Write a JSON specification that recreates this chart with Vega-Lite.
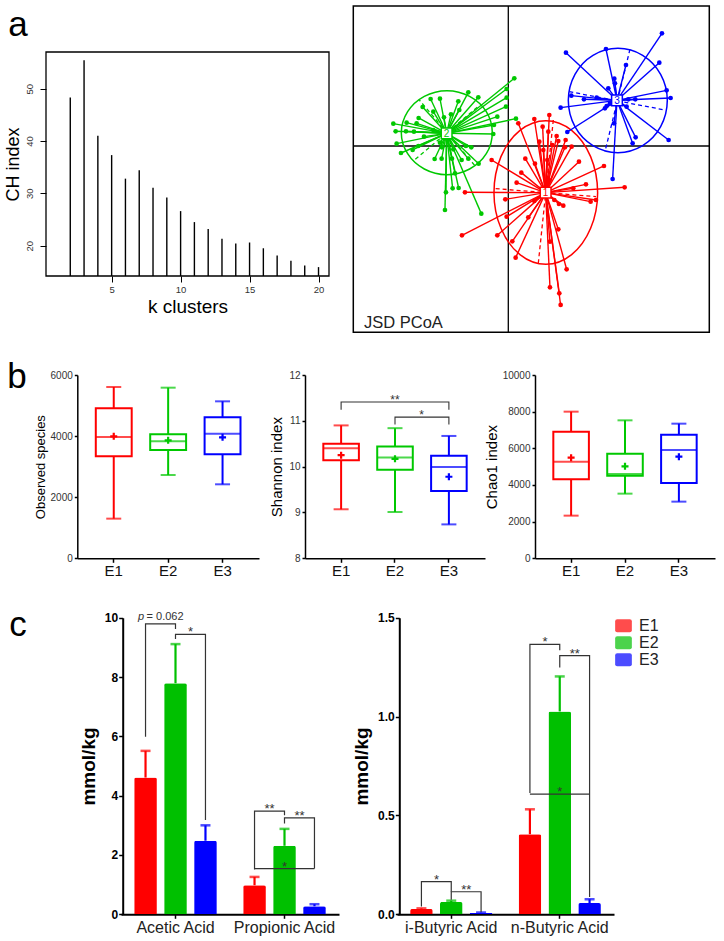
{
"$schema":"https://vega.github.io/schema/vega-lite/v6.json",
"width":724,"height":941,"autosize":"none","padding":0,"background":"white",
"config":{"view":{"stroke":null},"font":"Liberation Sans","axis":{"grid":false,"domainColor":"black","tickColor":"black","labelFont":"Liberation Sans","titleFont":"Liberation Sans","titleFontWeight":"normal","titleColor":"black"}},
"datasets":{
"ch":[{"k":2,"ch":48.3},{"k":3,"ch":55.4},{"k":4,"ch":41.0},{"k":5,"ch":37.3},{"k":6,"ch":32.8},{"k":7,"ch":34.4},{"k":8,"ch":31.05},{"k":9,"ch":29.2},{"k":10,"ch":26.6},{"k":11,"ch":24.5},{"k":12,"ch":23.2},{"k":13,"ch":21.3},{"k":14,"ch":20.4},{"k":15,"ch":20.6},{"k":16,"ch":19.5},{"k":17,"ch":18.1},{"k":18,"ch":17.1},{"k":19,"ch":16.2},{"k":20,"ch":15.9}],
"cent":[{"cl":"1","cx":1.12,"cy":-1.40},{"cl":"2","cx":-1.85,"cy":0.38},{"cl":"3","cx":3.26,"cy":1.37}],
"pts":[
{"cl":"2","px":0.18,"py":2.03},{"cl":"2","px":-0.05,"py":1.71},{"cl":"2","px":-0.05,"py":1.45},{"cl":"2","px":-0.07,"py":1.18},{"cl":"2","px":0.23,"py":0.82},{"cl":"2","px":-0.33,"py":0.88},{"cl":"2","px":-0.43,"py":0.63},{"cl":"2","px":-0.45,"py":0.36},{"cl":"2","px":-0.90,"py":1.46},{"cl":"2","px":-1.20,"py":1.61},{"cl":"2","px":-1.50,"py":1.34},{"cl":"2","px":-1.47,"py":1.08},{"cl":"2","px":-1.72,"py":0.95},{"cl":"2","px":-1.93,"py":0.86},{"cl":"2","px":-2.05,"py":1.42},{"cl":"2","px":-2.33,"py":1.41},{"cl":"2","px":-2.25,"py":1.03},{"cl":"2","px":-2.57,"py":1.17},{"cl":"2","px":-2.69,"py":0.84},{"cl":"2","px":-2.75,"py":0.68},{"cl":"2","px":-3.05,"py":0.70},{"cl":"2","px":-3.07,"py":0.44},{"cl":"2","px":-3.45,"py":0.67},{"cl":"2","px":-3.38,"py":0.44},{"cl":"2","px":-3.35,"py":0.07},{"cl":"2","px":-3.22,"py":-0.21},{"cl":"2","px":-2.83,"py":0.43},{"cl":"2","px":-2.70,"py":0.00},{"cl":"2","px":-2.87,"py":-0.12},{"cl":"2","px":-2.53,"py":0.28},{"cl":"2","px":-2.25,"py":0.48},{"cl":"2","px":-2.21,"py":-0.39},{"cl":"2","px":-1.99,"py":-0.04},{"cl":"2","px":-2.00,"py":-0.38},{"cl":"2","px":-1.69,"py":-0.38},{"cl":"2","px":-1.65,"py":-0.10},{"cl":"2","px":-1.40,"py":-0.42},{"cl":"2","px":-1.60,"py":-0.82},{"cl":"2","px":-1.67,"py":-1.27},{"cl":"2","px":-1.49,"py":-1.26},{"cl":"2","px":-1.87,"py":-1.39},{"cl":"2","px":-1.90,"py":-1.92},{"cl":"2","px":-0.81,"py":-2.03},{"cl":"2","px":-0.89,"py":-0.53},{"cl":"2","px":-1.20,"py":-0.38},{"cl":"2","px":-1.27,"py":0.00},{"cl":"2","px":-1.11,"py":-0.04},{"cl":"2","px":-2.05,"py":0.10},
{"cl":"1","px":1.23,"py":0.93},{"cl":"1","px":0.78,"py":0.81},{"cl":"1","px":0.30,"py":0.68},{"cl":"1","px":1.20,"py":0.43},{"cl":"1","px":1.45,"py":0.30},{"cl":"1","px":1.50,"py":0.15},{"cl":"1","px":1.72,"py":0.18},{"cl":"1","px":1.70,"py":-0.04},{"cl":"1","px":1.90,"py":-0.02},{"cl":"1","px":2.12,"py":-0.47},{"cl":"1","px":2.87,"py":-0.60},{"cl":"1","px":2.33,"py":-1.15},{"cl":"1","px":3.49,"py":-1.24},{"cl":"1","px":2.63,"py":-1.62},{"cl":"1","px":2.47,"py":-1.67},{"cl":"1","px":1.38,"py":-1.62},{"cl":"1","px":1.52,"py":-1.74},{"cl":"1","px":1.50,"py":-2.50},{"cl":"1","px":1.25,"py":-2.87},{"cl":"1","px":1.25,"py":-4.24},{"cl":"1","px":1.53,"py":-4.42},{"cl":"1","px":1.57,"py":-4.77},{"cl":"1","px":1.75,"py":-3.70},{"cl":"1","px":0.12,"py":-2.86},{"cl":"1","px":0.22,"py":-3.35},{"cl":"1","px":0.60,"py":-2.14},{"cl":"1","px":0.78,"py":-1.65},{"cl":"1","px":0.93,"py":0.13},{"cl":"1","px":1.03,"py":0.58},{"cl":"1","px":1.17,"py":-0.42},{"cl":"1","px":1.32,"py":0.03},{"cl":"1","px":-0.50,"py":-0.42},{"cl":"1","px":0.39,"py":-0.80},{"cl":"1","px":0.25,"py":-1.10},{"cl":"1","px":0.51,"py":-0.38},{"cl":"1","px":0.80,"py":-0.53},{"cl":"1","px":-0.05,"py":-2.12},{"cl":"1","px":-0.33,"py":-2.68},{"cl":"1","px":-1.39,"py":-2.68},{"cl":"1","px":-1.30,"py":-1.39},{"cl":"1","px":-0.09,"py":-1.60},{"cl":"1","px":1.65,"py":-1.79},{"cl":"1","px":1.95,"py":-1.27},{"cl":"1","px":1.23,"py":-1.03},{"cl":"1","px":1.05,"py":-0.12},
{"cl":"3","px":4.61,"py":3.38},{"cl":"3","px":2.93,"py":2.91},{"cl":"3","px":1.73,"py":2.80},{"cl":"3","px":3.53,"py":2.43},{"cl":"3","px":4.53,"py":2.50},{"cl":"3","px":3.18,"py":2.02},{"cl":"3","px":3.20,"py":1.88},{"cl":"3","px":4.75,"py":1.67},{"cl":"3","px":4.87,"py":1.44},{"cl":"3","px":3.81,"py":1.40},{"cl":"3","px":3.60,"py":1.40},{"cl":"3","px":2.65,"py":1.45},{"cl":"3","px":2.27,"py":1.40},{"cl":"3","px":1.89,"py":1.51},{"cl":"3","px":1.57,"py":1.15},{"cl":"3","px":2.95,"py":1.20},{"cl":"3","px":3.05,"py":1.28},{"cl":"3","px":1.77,"py":0.42},{"cl":"3","px":3.17,"py":0.68},{"cl":"3","px":3.82,"py":0.26},{"cl":"3","px":3.73,"py":0.08},{"cl":"3","px":4.81,"py":0.18},{"cl":"3","px":3.13,"py":-0.99},{"cl":"3","px":3.55,"py":1.18},{"cl":"3","px":2.90,"py":1.13},{"cl":"3","px":3.00,"py":1.73}
],
"ell":[
{"cl":"2","o":0,"ex":-0.48,"ey":0.40},{"cl":"2","o":1,"ex":-0.66,"ey":1.03},{"cl":"2","o":2,"ex":-1.16,"ey":1.49},{"cl":"2","o":3,"ex":-1.84,"ey":1.66},{"cl":"2","o":4,"ex":-2.52,"ey":1.49},{"cl":"2","o":5,"ex":-3.02,"ey":1.03},{"cl":"2","o":6,"ex":-3.21,"ey":0.40},{"cl":"2","o":7,"ex":-3.02,"ey":-0.23},{"cl":"2","o":8,"ex":-2.52,"ey":-0.69},{"cl":"2","o":9,"ex":-1.84,"ey":-0.86},{"cl":"2","o":10,"ex":-1.16,"ey":-0.69},{"cl":"2","o":11,"ex":-0.66,"ey":-0.23},
{"cl":"1","o":0,"ex":2.68,"ey":-1.40},{"cl":"1","o":1,"ex":2.47,"ey":-0.32},{"cl":"1","o":2,"ex":1.90,"ey":0.47},{"cl":"1","o":3,"ex":1.13,"ey":0.76},{"cl":"1","o":4,"ex":0.35,"ey":0.47},{"cl":"1","o":5,"ex":-0.22,"ey":-0.32},{"cl":"1","o":6,"ex":-0.43,"ey":-1.40},{"cl":"1","o":7,"ex":-0.22,"ey":-2.47},{"cl":"1","o":8,"ex":0.35,"ey":-3.26},{"cl":"1","o":9,"ex":1.13,"ey":-3.55},{"cl":"1","o":10,"ex":1.90,"ey":-3.26},{"cl":"1","o":11,"ex":2.47,"ey":-2.47},
{"cl":"3","o":0,"ex":4.77,"ey":1.37},{"cl":"3","o":1,"ex":4.57,"ey":2.15},{"cl":"3","o":2,"ex":4.03,"ey":2.72},{"cl":"3","o":3,"ex":3.29,"ey":2.93},{"cl":"3","o":4,"ex":2.54,"ey":2.72},{"cl":"3","o":5,"ex":2.00,"ey":2.15},{"cl":"3","o":6,"ex":1.80,"ey":1.37},{"cl":"3","o":7,"ex":2.00,"ey":0.58},{"cl":"3","o":8,"ex":2.54,"ey":0.01},{"cl":"3","o":9,"ex":3.29,"ey":-0.20},{"cl":"3","o":10,"ex":4.03,"ey":0.01},{"cl":"3","o":11,"ex":4.57,"ey":0.58}
],
"eax":[
{"cl":"3","x1":3.65,"y1":2.90,"x2":2.90,"y2":-0.17},{"cl":"3","x1":1.83,"y1":1.63,"x2":4.70,"y2":1.08},
{"cl":"1","x1":1.35,"y1":0.78,"x2":0.90,"y2":-3.52},{"cl":"1","x1":-0.38,"y1":-1.28,"x2":2.63,"y2":-1.52},
{"cl":"2","x1":-2.79,"y1":-0.40,"x2":-0.89,"y2":1.20},{"cl":"2","x1":-1.01,"y1":-0.58,"x2":-2.67,"y2":1.38}
]
},
"layer":[
{
"data":{"name":"ch"},
"layer":[
{"mark":{"type":"rule","color":"black","strokeWidth":1.4},
 "encoding":{
  "x":{"field":"k","type":"quantitative","scale":{"domain":[0.24,20.76],"range":[46,329],"nice":false,"zero":false},
   "axis":{"orient":"bottom","offset":-665,"values":[5,10,15,20],"domain":false,"tickSize":6,"labelFontSize":9.5,"labelColor":"#333","labelPadding":2,"title":"k clusters","titleFontSize":19,"titlePadding":4}},
  "y":{"field":"ch","type":"quantitative","scale":{"domain":[14.2,57.0],"range":[276,52],"nice":false,"zero":false},
   "axis":{"orient":"left","offset":-46,"values":[20,30,40,50],"domain":false,"tickSize":6,"labelAngle":270,"labelFontSize":9.5,"labelColor":"#333","labelPadding":6,"title":"CH index","titleFontSize":18,"titlePadding":2}},
  "y2":{"datum":14.2}}},
{"data":{"values":[{}]},"mark":{"type":"rect","fill":"transparent","stroke":"black","strokeWidth":1.3},
 "encoding":{"x":{"datum":0.24},"x2":{"datum":20.76},"y":{"datum":14.2},"y2":{"datum":57.0}}},
{"data":{"values":[{"t":"a","lx":-1.79,"ly":60.05},{"t":"b","lx":-1.86,"ly":-7.26},{"t":"c","lx":-1.79,"ly":-54.58}]},
 "mark":{"type":"text","fontSize":35,"align":"center","baseline":"alphabetic","color":"black"},
 "encoding":{"x":{"field":"lx","type":"quantitative"},"y":{"field":"ly","type":"quantitative"},"text":{"field":"t"}}}
]
},
{
"layer":[
{"data":{"values":[{}]},"mark":{"type":"rule","color":"black","strokeWidth":1.3},
 "encoding":{"x":{"datum":0,"scale":{"domain":[-4.65,6.03],"range":[353.3,709.3],"nice":false,"zero":false},"axis":null},"y":{"datum":-5.59,"scale":{"domain":[-5.59,4.2],"range":[332.3,6],"nice":false,"zero":false},"axis":null},"y2":{"datum":4.2}}},
{"data":{"values":[{}]},"mark":{"type":"rule","color":"black","strokeWidth":1.3},
 "encoding":{"y":{"datum":0},"x":{"datum":-4.65},"x2":{"datum":6.03}}},
{"data":{"name":"ell"},"mark":{"type":"line","interpolate":"cardinal-closed","strokeWidth":1.5},
 "encoding":{"x":{"field":"ex","type":"quantitative"},"y":{"field":"ey","type":"quantitative"},"order":{"field":"o"},
  "color":{"field":"cl","type":"nominal","scale":{"domain":["1","2","3"],"range":["#ff0000","#00c800","#0000ff"]},"legend":null}}},
{"data":{"name":"eax"},"mark":{"type":"rule","strokeWidth":1.3,"strokeDash":[4,3]},
 "encoding":{"x":{"field":"x1","type":"quantitative"},"y":{"field":"y1","type":"quantitative"},"x2":{"field":"x2"},"y2":{"field":"y2"},"color":{"field":"cl","type":"nominal","legend":null}}},
{"data":{"name":"pts"},"transform":[{"lookup":"cl","from":{"data":{"name":"cent"},"key":"cl","fields":["cx","cy"]}}],
 "mark":{"type":"rule","strokeWidth":1.4},
 "encoding":{"x":{"field":"px","type":"quantitative"},"y":{"field":"py","type":"quantitative"},"x2":{"field":"cx"},"y2":{"field":"cy"},"color":{"field":"cl","type":"nominal","legend":null}}},
{"data":{"name":"pts"},"mark":{"type":"circle","size":22,"opacity":1},
 "encoding":{"x":{"field":"px","type":"quantitative"},"y":{"field":"py","type":"quantitative"},"color":{"field":"cl","type":"nominal","legend":null}}},
{"data":{"values":[{}]},"mark":{"type":"rect","fill":"transparent","stroke":"black","strokeWidth":1.5},
 "encoding":{"x":{"datum":-4.65},"x2":{"datum":6.03},"y":{"datum":-5.59},"y2":{"datum":4.2}}},
{"data":{"name":"cent"},"mark":{"type":"point","shape":"square","size":115,"filled":true,"fill":"white","strokeWidth":1.5,"opacity":1},
 "encoding":{"x":{"field":"cx","type":"quantitative"},"y":{"field":"cy","type":"quantitative"},"stroke":{"field":"cl","type":"nominal","scale":{"domain":["1","2","3"],"range":["#ff0000","#00c800","#0000ff"]},"legend":null}}},
{"data":{"name":"cent"},"mark":{"type":"text","fontSize":10,"baseline":"middle","align":"center","dy":0.5},
 "encoding":{"x":{"field":"cx","type":"quantitative"},"y":{"field":"cy","type":"quantitative"},"text":{"field":"cl"},"color":{"field":"cl","type":"nominal","legend":null}}},
{"data":{"values":[{"t":"JSD PCoA"}]},"mark":{"type":"text","fontSize":16.5,"align":"left","baseline":"alphabetic","color":"#222"},
 "encoding":{"x":{"datum":-4.33},"y":{"datum":-5.47},"text":{"field":"t"}}}
]
},
{
"data":{"values":[{"g":"E1","mn":1298,"q1":3338,"md":3971,"mu":3993,"q3":4909,"mx":5607},{"g":"E2","mn":2727,"q1":3545,"md":3829,"mu":3862,"q3":4058,"mx":5585},{"g":"E3","mn":2422,"q1":3403,"md":4080,"mu":3960,"q3":4614,"mx":5138}]},
"encoding":{
 "x":{"field":"g","type":"nominal","scale":{"domain":["E1","E2","E3"],"range":[77.3,259],"paddingInner":0.34,"paddingOuter":0.34},
  "axis":{"orient":"bottom","offset":-382.7,"title":null,"labelAngle":0,"labelFontSize":15,"labelColor":"#111","tickSize":4,"labelPadding":1.5,"domainWidth":1.5,"tickWidth":1.5}},
 "color":{"field":"g","type":"nominal","scale":{"domain":["E1","E2","E3"],"range":["#ff0000","#00c800","#0000ff"]},"legend":null}},
"layer":[
{"mark":{"type":"rule","strokeWidth":2},"encoding":{"y":{"field":"mn","type":"quantitative","scale":{"domain":[0,6000],"range":[558.3,375],"nice":false},
  "axis":{"orient":"left","offset":-77.3,"values":[0,2000,4000,6000],"format":"d","title":"Observed  species","titleFontSize":13,"titlePadding":3,"labelFontSize":10,"labelColor":"#333","tickSize":3,"labelPadding":2,"domainWidth":1.5,"tickWidth":1.5}},"y2":{"field":"q1"}}},
{"mark":{"type":"rule","strokeWidth":2},"encoding":{"y":{"field":"q3","type":"quantitative"},"y2":{"field":"mx"}}},
{"mark":{"type":"bar","filled":false,"strokeWidth":2},"encoding":{"y":{"field":"q1","type":"quantitative"},"y2":{"field":"q3"}}},
{"mark":{"type":"tick","size":15,"thickness":2},"encoding":{"y":{"field":"mn","type":"quantitative"}}},
{"mark":{"type":"tick","size":15,"thickness":2},"encoding":{"y":{"field":"mx","type":"quantitative"}}},
{"mark":{"type":"tick","size":36,"thickness":2},"encoding":{"y":{"field":"md","type":"quantitative"}}},
{"mark":{"type":"point","shape":"M-1,0L1,0M0,-1L0,1","size":49,"filled":false,"strokeWidth":2.2,"opacity":1},"encoding":{"y":{"field":"mu","type":"quantitative"}}}
]
},
{
"data":{"values":[{"g":"E1","mn":9.07,"q1":10.14,"md":10.40,"mu":10.25,"q3":10.50,"mx":10.90},{"g":"E2","mn":9.01,"q1":9.93,"md":10.20,"mu":10.17,"q3":10.44,"mx":10.84},{"g":"E3","mn":8.74,"q1":9.47,"md":9.99,"mu":9.78,"q3":10.24,"mx":10.67}]},
"encoding":{
 "x":{"field":"g","type":"nominal","scale":{"domain":["E1","E2","E3"],"range":[305,485],"paddingInner":0.34,"paddingOuter":0.34},
  "axis":{"orient":"bottom","offset":-382.7,"title":null,"labelAngle":0,"labelFontSize":15,"labelColor":"#111","tickSize":4,"labelPadding":1.5,"domainWidth":1.5,"tickWidth":1.5}}},
"layer":[
{"mark":{"type":"rule","strokeWidth":2},"encoding":{"y":{"field":"mn","type":"quantitative","scale":{"domain":[8,12],"range":[558.3,375],"nice":false,"zero":false},
  "axis":{"orient":"left","offset":-305,"values":[8,9,10,11,12],"format":"d","title":"Shannon index","titleFontSize":15,"titlePadding":4,"labelFontSize":10,"labelColor":"#333","tickSize":3,"labelPadding":2,"domainWidth":1.5,"tickWidth":1.5}},"y2":{"field":"q1"},
  "color":{"field":"g","type":"nominal","scale":{"domain":["E1","E2","E3"],"range":["#ff0000","#00c800","#0000ff"]},"legend":null}}},
{"mark":{"type":"rule","strokeWidth":2},"encoding":{"y":{"field":"q3","type":"quantitative"},"y2":{"field":"mx"},"color":{"field":"g","type":"nominal","legend":null}}},
{"mark":{"type":"bar","filled":false,"strokeWidth":2},"encoding":{"y":{"field":"q1","type":"quantitative"},"y2":{"field":"q3"},"color":{"field":"g","type":"nominal","legend":null}}},
{"mark":{"type":"tick","size":15,"thickness":2},"encoding":{"y":{"field":"mn","type":"quantitative"},"color":{"field":"g","type":"nominal","legend":null}}},
{"mark":{"type":"tick","size":15,"thickness":2},"encoding":{"y":{"field":"mx","type":"quantitative"},"color":{"field":"g","type":"nominal","legend":null}}},
{"mark":{"type":"tick","size":36,"thickness":2},"encoding":{"y":{"field":"md","type":"quantitative"},"color":{"field":"g","type":"nominal","legend":null}}},
{"mark":{"type":"point","shape":"M-1,0L1,0M0,-1L0,1","size":49,"filled":false,"strokeWidth":2.2,"opacity":1},"encoding":{"y":{"field":"mu","type":"quantitative"},"color":{"field":"g","type":"nominal","legend":null}}},
{"data":{"values":[{"g":"E1","y":11.24,"id":1,"o":1},{"g":"E1","y":11.41,"id":1,"o":2},{"g":"E3","y":11.41,"id":1,"o":3},{"g":"E3","y":11.24,"id":1,"o":4},{"g":"E2","y":10.92,"id":2,"o":1},{"g":"E2","y":11.08,"id":2,"o":2},{"g":"E3","y":11.08,"id":2,"o":3},{"g":"E3","y":10.92,"id":2,"o":4}]},
 "mark":{"type":"line","color":"#333","strokeWidth":1.1},
 "encoding":{"y":{"field":"y","type":"quantitative"},"detail":{"field":"id","type":"nominal"},"order":{"field":"o"}}},
{"data":{"values":[{"g":"E2","y":11.41,"t":"**"}]},"mark":{"type":"text","fontSize":12,"baseline":"alphabetic","dy":2,"color":"#333"},
 "encoding":{"y":{"field":"y","type":"quantitative"},"text":{"field":"t"}}},
{"data":{"values":[{"g":"E2","y":11.08,"t":"*"}]},"mark":{"type":"text","fontSize":12,"baseline":"alphabetic","dy":2,"dx":26.7,"color":"#333"},
 "encoding":{"y":{"field":"y","type":"quantitative"},"text":{"field":"t"}}}
]
},
{
"data":{"values":[{"g":"E1","mn":2327,"q1":4309,"md":5273,"mu":5491,"q3":6909,"mx":8000},{"g":"E2","mn":3527,"q1":4509,"md":4600,"mu":5018,"q3":5709,"mx":7527},{"g":"E3","mn":3091,"q1":4109,"md":5909,"mu":5545,"q3":6745,"mx":7345}]},
"encoding":{
 "x":{"field":"g","type":"nominal","scale":{"domain":["E1","E2","E3"],"range":[535,715],"paddingInner":0.34,"paddingOuter":0.34},
  "axis":{"orient":"bottom","offset":-382.7,"title":null,"labelAngle":0,"labelFontSize":15,"labelColor":"#111","tickSize":4,"labelPadding":1.5,"domainWidth":1.5,"tickWidth":1.5}},
 "color":{"field":"g","type":"nominal","scale":{"domain":["E1","E2","E3"],"range":["#ff0000","#00c800","#0000ff"]},"legend":null}},
"layer":[
{"mark":{"type":"rule","strokeWidth":2},"encoding":{"y":{"field":"mn","type":"quantitative","scale":{"domain":[0,10000],"range":[558.3,375],"nice":false},
  "axis":{"orient":"left","offset":-535,"values":[0,2000,4000,6000,8000,10000],"format":"d","title":"Chao1 index","titleFontSize":15,"titlePadding":3,"labelFontSize":10,"labelColor":"#333","tickSize":3,"labelPadding":2,"domainWidth":1.5,"tickWidth":1.5}},"y2":{"field":"q1"}}},
{"mark":{"type":"rule","strokeWidth":2},"encoding":{"y":{"field":"q3","type":"quantitative"},"y2":{"field":"mx"}}},
{"mark":{"type":"bar","filled":false,"strokeWidth":2},"encoding":{"y":{"field":"q1","type":"quantitative"},"y2":{"field":"q3"}}},
{"mark":{"type":"tick","size":15,"thickness":2},"encoding":{"y":{"field":"mn","type":"quantitative"}}},
{"mark":{"type":"tick","size":15,"thickness":2},"encoding":{"y":{"field":"mx","type":"quantitative"}}},
{"mark":{"type":"tick","size":36,"thickness":2},"encoding":{"y":{"field":"md","type":"quantitative"}}},
{"mark":{"type":"point","shape":"M-1,0L1,0M0,-1L0,1","size":49,"filled":false,"strokeWidth":2.2,"opacity":1},"encoding":{"y":{"field":"mu","type":"quantitative"}}}
]
},
{
"layer":[
{"data":{"values":[{"a":"Acetic Acid","g":"E1","v":4.61,"hi":5.51},{"a":"Acetic Acid","g":"E2","v":7.79,"hi":9.11},{"a":"Acetic Acid","g":"E3","v":2.48,"hi":3.0},{"a":"Propionic Acid","g":"E1","v":0.98,"hi":1.26},{"a":"Propionic Acid","g":"E2","v":2.31,"hi":2.88},{"a":"Propionic Acid","g":"E3","v":0.27,"hi":0.34}]},
 "layer":[
 {"mark":{"type":"rule","strokeWidth":2.2},
  "encoding":{"x":{"field":"a","type":"nominal","scale":{"domain":["Acetic Acid","Propionic Acid"],"range":[121,339],"paddingInner":0,"paddingOuter":0},
    "axis":{"orient":"bottom","offset":-26.7,"title":null,"labelAngle":0,"labelFontSize":16,"labelColor":"#222","tickSize":4,"labelPadding":1,"domainWidth":2,"tickWidth":1.5}},
   "xOffset":{"field":"g","type":"nominal","scale":{"domain":["E1","E2","E3"],"paddingInner":0.243,"paddingOuter":0.44}},
   "y":{"field":"v","type":"quantitative","scale":{"domain":[0,10],"range":[914.3,617.7],"nice":false},
    "axis":{"orient":"left","offset":-122.7,"values":[0,2,4,6,8,10],"format":"d","title":"mmol/kg","titleFontSize":19,"titleFontWeight":"bold","titlePadding":6,"labelFontSize":12,"labelFontWeight":"bold","labelColor":"black","tickSize":4,"labelPadding":1,"domainWidth":2,"tickWidth":1.5}},
   "y2":{"field":"hi"},
   "color":{"field":"g","type":"nominal","scale":{"domain":["E1","E2","E3"],"range":["#ff0000","#00c000","#0000ff"]},"legend":null}}},
 {"mark":{"type":"tick","size":10,"thickness":2.5},"encoding":{"x":{"field":"a","type":"nominal"},"xOffset":{"field":"g","type":"nominal"},"y":{"field":"hi","type":"quantitative"},"color":{"field":"g","type":"nominal","legend":null}}},
 {"mark":{"type":"bar","cornerRadiusTopLeft":2,"cornerRadiusTopRight":2},"encoding":{"x":{"field":"a","type":"nominal"},"xOffset":{"field":"g","type":"nominal"},"y":{"field":"v","type":"quantitative"},"color":{"field":"g","type":"nominal","legend":null}}}
 ]},
{"data":{"values":[
 {"a":"Acetic Acid","g":"E1","y":5.99,"id":1,"o":1},{"a":"Acetic Acid","g":"E1","y":9.79,"id":1,"o":2},{"a":"Acetic Acid","g":"E2","y":9.79,"id":1,"o":3},{"a":"Acetic Acid","g":"E2","y":9.62,"id":1,"o":4},
 {"a":"Acetic Acid","g":"E2","y":9.28,"id":2,"o":1},{"a":"Acetic Acid","g":"E2","y":9.44,"id":2,"o":2},{"a":"Acetic Acid","g":"E3","y":9.44,"id":2,"o":3},{"a":"Acetic Acid","g":"E3","y":3.18,"id":2,"o":4},
 {"a":"Propionic Acid","g":"E1","y":1.51,"id":3,"o":1},{"a":"Propionic Acid","g":"E1","y":3.48,"id":3,"o":2},{"a":"Propionic Acid","g":"E2","y":3.48,"id":3,"o":3},{"a":"Propionic Acid","g":"E2","y":3.34,"id":3,"o":4},
 {"a":"Propionic Acid","g":"E2","y":3.06,"id":4,"o":1},{"a":"Propionic Acid","g":"E2","y":3.25,"id":4,"o":2},{"a":"Propionic Acid","g":"E3","y":3.25,"id":4,"o":3},{"a":"Propionic Acid","g":"E3","y":1.54,"id":4,"o":4},
 {"a":"Propionic Acid","g":"E1","y":1.54,"id":5,"o":1},{"a":"Propionic Acid","g":"E3","y":1.54,"id":5,"o":2}]},
 "mark":{"type":"line","color":"#333","strokeWidth":1.2},
 "encoding":{"x":{"field":"a","type":"nominal"},"xOffset":{"field":"g","type":"nominal"},"y":{"field":"y","type":"quantitative"},"detail":{"field":"id","type":"nominal"},"order":{"field":"o"}}},
{"data":{"values":[{"a":"Acetic Acid","g":"E2","y":9.44,"t":"*"},{"a":"Propionic Acid","g":"E1","y":3.48,"t":"**"},{"a":"Propionic Acid","g":"E2","y":3.25,"t":"**"}]},
 "mark":{"type":"text","fontSize":13,"baseline":"alphabetic","dy":2,"dx":15,"color":"#333"},
 "encoding":{"x":{"field":"a","type":"nominal"},"xOffset":{"field":"g","type":"nominal"},"y":{"field":"y","type":"quantitative"},"text":{"field":"t"}}},
{"data":{"values":[{"a":"Propionic Acid","g":"E2","y":1.54,"t":"*"}]},
 "mark":{"type":"text","fontSize":13,"baseline":"alphabetic","dy":2,"color":"#333"},
 "encoding":{"x":{"field":"a","type":"nominal"},"xOffset":{"field":"g","type":"nominal"},"y":{"field":"y","type":"quantitative"},"text":{"field":"t"}}},
{"data":{"values":[{"a":"Acetic Acid","g":"E1","y":9.79,"t":"p"}]},
 "mark":{"type":"text","fontSize":11,"fontStyle":"italic","align":"right","baseline":"alphabetic","dy":-4,"dx":-1.5,"color":"#333"},
 "encoding":{"x":{"field":"a","type":"nominal"},"xOffset":{"field":"g","type":"nominal"},"y":{"field":"y","type":"quantitative"},"text":{"field":"t"}}},
{"data":{"values":[{"a":"Acetic Acid","g":"E1","y":9.79,"t":"= 0.062"}]},
 "mark":{"type":"text","fontSize":11,"align":"left","baseline":"alphabetic","dy":-4,"dx":1,"color":"#333"},
 "encoding":{"x":{"field":"a","type":"nominal"},"xOffset":{"field":"g","type":"nominal"},"y":{"field":"y","type":"quantitative"},"text":{"field":"t"}}}
]
},
{
"layer":[
{"data":{"values":[{"a":"i-Butyric Acid","g":"E1","v":0.027,"hi":0.030},{"a":"i-Butyric Acid","g":"E2","v":0.062,"hi":0.069},{"a":"i-Butyric Acid","g":"E3","v":0.007,"hi":0.009},{"a":"n-Butyric Acid","g":"E1","v":0.405,"hi":0.531},{"a":"n-Butyric Acid","g":"E2","v":1.026,"hi":1.203},{"a":"n-Butyric Acid","g":"E3","v":0.057,"hi":0.076}]},
 "layer":[
 {"mark":{"type":"rule","strokeWidth":2.2},
  "encoding":{"x":{"field":"a","type":"nominal","scale":{"domain":["i-Butyric Acid","n-Butyric Acid"],"range":[397,614],"paddingInner":0,"paddingOuter":0},
    "axis":{"orient":"bottom","offset":-26.7,"title":null,"labelAngle":0,"labelFontSize":16,"labelColor":"#222","tickSize":4,"labelPadding":1,"domainWidth":2,"tickWidth":1.5}},
   "xOffset":{"field":"g","type":"nominal","scale":{"domain":["E1","E2","E3"],"paddingInner":0.243,"paddingOuter":0.44}},
   "y":{"field":"v","type":"quantitative","scale":{"domain":[0,1.5],"range":[914.3,617.7],"nice":false},
    "axis":{"orient":"left","offset":-399.3,"values":[0,0.5,1,1.5],"format":".1f","title":"mmol/kg","titleFontSize":19,"titleFontWeight":"bold","titlePadding":6,"labelFontSize":12,"labelFontWeight":"bold","labelColor":"black","tickSize":4,"labelPadding":1,"domainWidth":2,"tickWidth":1.5}},
   "y2":{"field":"hi"},
   "color":{"field":"g","type":"nominal","scale":{"domain":["E1","E2","E3"],"range":["#ff0000","#00c000","#0000ff"]},
    "legend":{"orient":"none","legendX":615,"legendY":617.3,"title":null,"padding":0,"rowPadding":0,"symbolType":"M-0.75,-0.78H0.75Q1,-0.78 1,-0.53V0.53Q1,0.78 0.75,0.78H-0.75Q-1,0.78 -1,0.53V-0.53Q-1,-0.78 -0.75,-0.78Z","symbolSize":279,"symbolStrokeWidth":0,"symbolOpacity":1,"labelFontSize":16,"labelOffset":7,"labelColor":"#222","labelFont":"Liberation Sans"}}}},
 {"mark":{"type":"tick","size":10,"thickness":2.5},"encoding":{"x":{"field":"a","type":"nominal"},"xOffset":{"field":"g","type":"nominal"},"y":{"field":"hi","type":"quantitative"},"color":{"field":"g","type":"nominal"}}},
 {"mark":{"type":"bar","cornerRadiusTopLeft":2,"cornerRadiusTopRight":2},"encoding":{"x":{"field":"a","type":"nominal"},"xOffset":{"field":"g","type":"nominal"},"y":{"field":"v","type":"quantitative"},"color":{"field":"g","type":"nominal"}}}
 ]},
{"data":{"values":[
 {"a":"i-Butyric Acid","g":"E1","y":0.039,"id":1,"o":1},{"a":"i-Butyric Acid","g":"E1","y":0.165,"id":1,"o":2},{"a":"i-Butyric Acid","g":"E2","y":0.165,"id":1,"o":3},{"a":"i-Butyric Acid","g":"E2","y":0.114,"id":1,"o":4},
 {"a":"i-Butyric Acid","g":"E2","y":0.074,"id":2,"o":1},{"a":"i-Butyric Acid","g":"E2","y":0.114,"id":2,"o":2},{"a":"i-Butyric Acid","g":"E3","y":0.114,"id":2,"o":3},{"a":"i-Butyric Acid","g":"E3","y":0.012,"id":2,"o":4},
 {"a":"n-Butyric Acid","g":"E1","y":0.614,"id":3,"o":1},{"a":"n-Butyric Acid","g":"E1","y":1.365,"id":3,"o":2},{"a":"n-Butyric Acid","g":"E2","y":1.365,"id":3,"o":3},{"a":"n-Butyric Acid","g":"E2","y":1.335,"id":3,"o":4},
 {"a":"n-Butyric Acid","g":"E2","y":1.248,"id":4,"o":1},{"a":"n-Butyric Acid","g":"E2","y":1.308,"id":4,"o":2},{"a":"n-Butyric Acid","g":"E3","y":1.308,"id":4,"o":3},{"a":"n-Butyric Acid","g":"E3","y":0.088,"id":4,"o":4},
 {"a":"n-Butyric Acid","g":"E1","y":0.608,"id":5,"o":1},{"a":"n-Butyric Acid","g":"E3","y":0.608,"id":5,"o":2}]},
 "mark":{"type":"line","color":"#333","strokeWidth":1.2},
 "encoding":{"x":{"field":"a","type":"nominal"},"xOffset":{"field":"g","type":"nominal"},"y":{"field":"y","type":"quantitative"},"detail":{"field":"id","type":"nominal"},"order":{"field":"o"}}},
{"data":{"values":[{"a":"i-Butyric Acid","g":"E1","y":0.165,"t":"*"},{"a":"i-Butyric Acid","g":"E2","y":0.114,"t":"**"},{"a":"n-Butyric Acid","g":"E1","y":1.365,"t":"*"},{"a":"n-Butyric Acid","g":"E2","y":1.308,"t":"**"}]},
 "mark":{"type":"text","fontSize":13,"baseline":"alphabetic","dy":2,"dx":15,"color":"#333"},
 "encoding":{"x":{"field":"a","type":"nominal"},"xOffset":{"field":"g","type":"nominal"},"y":{"field":"y","type":"quantitative"},"text":{"field":"t"}}},
{"data":{"values":[{"a":"n-Butyric Acid","g":"E2","y":0.608,"t":"*"}]},
 "mark":{"type":"text","fontSize":13,"baseline":"alphabetic","dy":2,"color":"#333"},
 "encoding":{"x":{"field":"a","type":"nominal"},"xOffset":{"field":"g","type":"nominal"},"y":{"field":"y","type":"quantitative"},"text":{"field":"t"}}}
]
}
],
"resolve":{"scale":{"x":"independent","y":"independent","color":"independent","stroke":"independent","xOffset":"independent"},"axis":{"x":"independent","y":"independent"},"legend":{"color":"independent"}}
}
